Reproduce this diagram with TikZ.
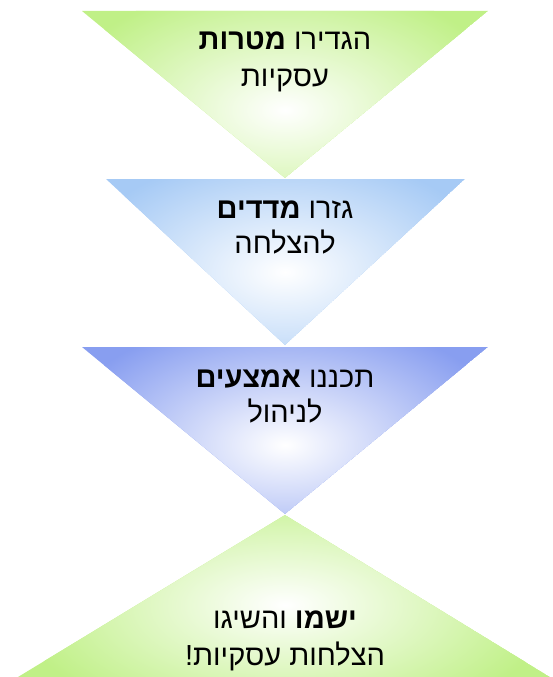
\documentclass[tikz,border=0pt]{standalone}
\usepackage{fontspec}
\newfontfamily\hebfont[Script=Hebrew]{Liberation Sans}
\TeXXeTstate=1
\definecolor{gcol}{RGB}{192,240,135}
\definecolor{bcol}{RGB}{166,202,245}
\definecolor{pcol}{RGB}{136,158,240}
\tikzset{
  lbl/.style={anchor=base, inner sep=0pt, font=\hebfont\fontsize{29}{34}\selectfont, text=black},
}
\newcommand{\glowtri}[7]{%
  \begin{scope}
    \clip #1 -- #2 -- #3 -- cycle;
    \fill[#4] #1 -- #2 -- #3 -- cycle;
    \shade[inner color=white, outer color=#4] #5 ellipse [x radius=#6, y radius=#7];
  \end{scope}}
\begin{document}
\begin{tikzpicture}[x=1pt,y=-1pt]
\useasboundingbox (0,0) rectangle (553,677);
% triangle 1
\coordinate (a1) at (82,11); \coordinate (b1) at (488,11); \coordinate (c1) at (285,178);
\glowtri{(a1)}{(b1)}{(c1)}{gcol}{(285,110)}{230}{130}
% triangle 2
\coordinate (a2) at (106,179); \coordinate (b2) at (465,179); \coordinate (c2) at (285,345);
\glowtri{(a2)}{(b2)}{(c2)}{bcol}{(285,272)}{210}{120}
% triangle 3
\coordinate (a3) at (82,347); \coordinate (b3) at (488,347); \coordinate (c3) at (285,514);
\glowtri{(a3)}{(b3)}{(c3)}{pcol}{(285,445)}{230}{130}
% triangle 4
\coordinate (a4) at (18,677); \coordinate (b4) at (550,677); \coordinate (c4) at (285,515);
\glowtri{(a4)}{(b4)}{(c4)}{gcol}{(285,605)}{270}{125}
% texts
\node[lbl] (t1a) at (285,50) {\beginR הגדירו \textbf{מטרות}\endR};
\node[lbl] (t1b) at (285,86) {\beginR עסקיות\endR};
\node[lbl] (t2a) at (285,218) {\beginR גזרו \textbf{מדדים}\endR};
\node[lbl] (t2b) at (285,253) {\beginR להצלחה\endR};
\node[lbl] (t3a) at (285,387) {\beginR תכננו \textbf{אמצעים}\endR};
\node[lbl] (t3b) at (285,422) {\beginR לניהול\endR};
\node[lbl] (t4a) at (285,628) {\beginR \textbf{ישמו} והשיגו\endR};
\node[lbl] (t4b) at (285,665) {\beginR הצלחות עסקיות!\endR};
\end{tikzpicture}
\end{document}
